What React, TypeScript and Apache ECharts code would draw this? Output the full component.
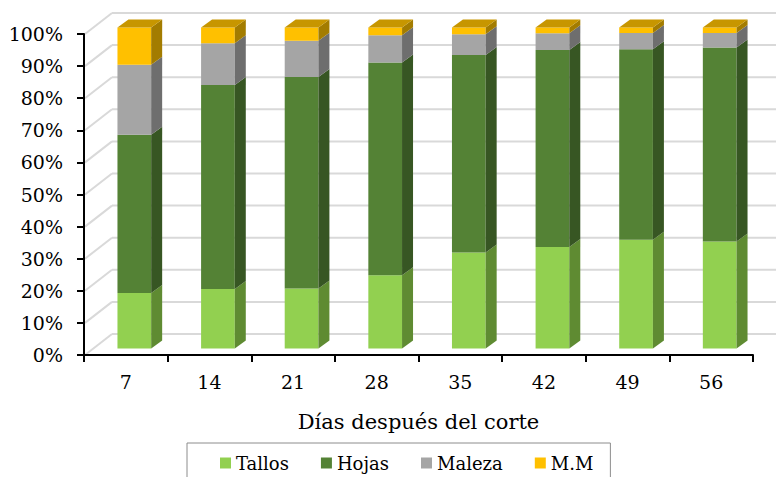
import React, { useEffect, useRef } from "react";
import * as echarts from "echarts";

const categories = ["7", "14", "21", "28", "35", "42", "49", "56"];
const tallos = [17.3, 18.5, 18.7, 22.8, 29.9, 31.6, 33.9, 33.3];
const hojas = [49.3, 63.6, 65.9, 66.3, 61.5, 61.4, 59.3, 60.5];
const maleza = [21.8, 13.0, 11.3, 8.5, 6.5, 5.2, 5.1, 4.5];
const mm = [11.6, 4.9, 4.1, 2.4, 2.1, 1.8, 1.7, 1.7];
const yTicks = [0, 10, 20, 30, 40, 50, 60, 70, 80, 90, 100];

const seriesNames = ["Tallos", "Hojas", "Maleza", "M.M"];
const seriesValues = [tallos, hojas, maleza, mm];
const frontColors = ["#92D050", "#548235", "#A5A5A5", "#FFC000"];
const sideColors = ["#5F8B32", "#375623", "#6E6E6E", "#A37C00"];
const topColors = ["#76A83F", "#466D2C", "#8A8A8A", "#C79600"];

const FONT = "DejaVu Serif";

const BACK_DX = 28;
const BACK_DY = -21;
const BAR_OX = 8.5;
const BAR_OY = -6.5;
const DEPTH_DX = 11;
const DEPTH_DY = -8;
const BAR_FRAC = 0.403;

export default function App() {
  const ref = useRef<HTMLDivElement>(null);

  useEffect(() => {
    if (!ref.current) return;
    const chart = echarts.init(ref.current, undefined, { renderer: "svg" });

    const cum = categories.map(() => 0);
    const barSeries = seriesValues.map((vals, si) => {
      const data = vals.map((v, i) => {
        const lo = cum[i];
        const hi = cum[i] + v;
        cum[i] = hi;
        return [i, lo, hi];
      });
      const isTop = si === seriesValues.length - 1;
      return {
        type: "custom",
        name: seriesNames[si],
        z: 3,
        itemStyle: { color: frontColors[si] },
        encode: { x: 0, y: 2 },
        data,
        renderItem: (params: any, api: any) => {
          const cat = api.value(0);
          const lo = api.value(1);
          const hi = api.value(2);
          const pLo = api.coord([cat, lo]);
          const pHi = api.coord([cat, hi]);
          const bw = api.size([1, 0])[0] * BAR_FRAC;
          const x0 = pLo[0] - bw / 2 + BAR_OX;
          const x1 = x0 + bw;
          const yb = pLo[1] + BAR_OY;
          const yt = pHi[1] + BAR_OY;
          const children: any[] = [
            { type: "rect", shape: { x: x0, y: yt, width: bw, height: yb - yt }, style: { fill: frontColors[si] } },
            {
              type: "polygon",
              shape: { points: [[x1, yt], [x1 + DEPTH_DX, yt + DEPTH_DY], [x1 + DEPTH_DX, yb + DEPTH_DY], [x1, yb]] },
              style: { fill: sideColors[si] },
            },
          ];
          if (isTop) {
            children.push({
              type: "polygon",
              shape: { points: [[x0, yt], [x0 + DEPTH_DX, yt + DEPTH_DY], [x1 + DEPTH_DX, yt + DEPTH_DY], [x1, yt]] },
              style: { fill: topColors[si] },
            });
          }
          return { type: "group", children };
        },
      };
    });

    const gridSeries = {
      type: "custom",
      z: 1,
      silent: true,
      data: yTicks.map((v) => [0, v]),
      encode: { x: 0, y: 1 },
      renderItem: (params: any, api: any) => {
        const cs = params.coordSys;
        const y = api.coord([0, api.value(1)])[1];
        const style = { stroke: "#D9D9D9", lineWidth: 2 };
        return {
          type: "group",
          children: [
            { type: "line", shape: { x1: cs.x + 1, y1: y, x2: cs.x + BACK_DX, y2: y + BACK_DY }, style },
            { type: "line", shape: { x1: cs.x + BACK_DX, y1: y + BACK_DY, x2: cs.x + cs.width + BACK_DX, y2: y + BACK_DY }, style },
          ],
        };
      },
    };

    chart.setOption({
      animation: false,
      backgroundColor: "#ffffff",
      textStyle: { fontFamily: FONT },
      grid: { left: 84, right: 23, top: 34, bottom: 122, containLabel: false },
      legend: {
        data: seriesNames,
        left: 187,
        top: 443,
        icon: "rect",
        itemWidth: 11,
        itemHeight: 11,
        itemGap: 32,
        padding: [11, 17, 14, 33],
        borderColor: "#8C8C8C",
        borderWidth: 1,
        textStyle: { fontFamily: FONT, fontSize: 18, color: "#000000" },
      },
      xAxis: {
        type: "category",
        data: categories,
        z: 5,
        name: "Días después del corte",
        nameLocation: "middle",
        nameGap: 56,
        nameTextStyle: { fontFamily: FONT, fontSize: 21, color: "#000000" },
        axisLine: { show: true, lineStyle: { color: "#000000", width: 2 } },
        axisTick: { show: true, length: 7, lineStyle: { color: "#000000", width: 2 } },
        axisLabel: { fontFamily: FONT, fontSize: 19, color: "#000000", margin: 17 },
        splitLine: { show: false },
      },
      yAxis: {
        type: "value",
        min: 0,
        max: 100,
        interval: 10,
        z: 5,
        axisLine: { show: true, lineStyle: { color: "#000000", width: 2 } },
        axisTick: { show: true, length: 7, lineStyle: { color: "#000000", width: 2 } },
        axisLabel: { fontFamily: FONT, fontSize: 19, color: "#000000", margin: 21, formatter: "{value}%" },
        splitLine: { show: false },
      },
      series: [gridSeries, ...barSeries],
    });

    return () => chart.dispose();
  }, []);

  return <div ref={ref} style={{ width: 776, height: 477, position: "absolute", left: 0, top: 0 }} />;
}
